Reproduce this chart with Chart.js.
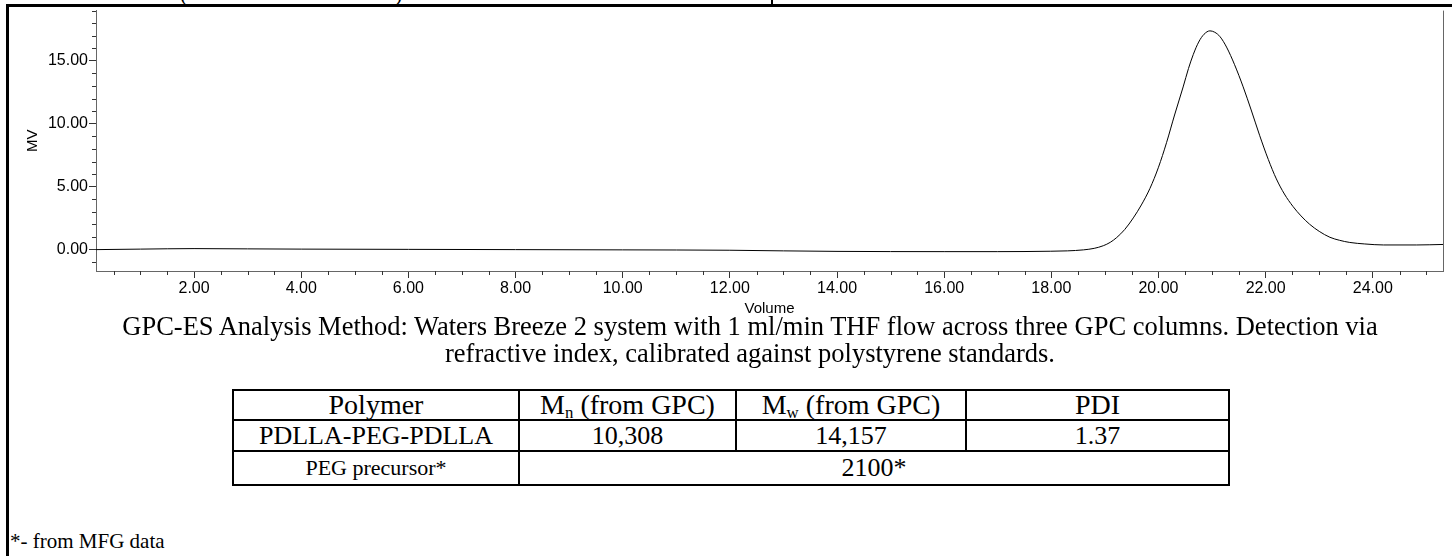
<!DOCTYPE html>
<html>
<head>
<meta charset="utf-8">
<title>GPC trace</title>
<script src="https://cdn.jsdelivr.net/npm/chart.js@4.4.0/dist/chart.umd.min.js"></script>
<style>
  body { margin: 0; width: 1452px; height: 556px; position: relative; overflow: hidden; background: #fff;
         font-family: "Liberation Serif", "Times New Roman", serif; color: #000; }
  .abs { position: absolute; }
  #chartBox { left: 0; top: 0; width: 1452px; height: 320px; }
  .caption { left: 0; width: 1500px; text-align: center; font-size: 26.5px; white-space: nowrap; line-height: 27px; }
  #gpcTable { position: absolute; left: 232px; top: 389px; border-collapse: collapse; table-layout: fixed; }
  #gpcTable td { border: 2px solid #000; text-align: center; padding: 0; white-space: nowrap; overflow: visible; }
  #gpcTable tr.head td { height: 28px; line-height: 28px; font-size: 28px; }
  #gpcTable tr.row1 td { height: 29px; line-height: 29px; font-size: 26px; }
  #gpcTable tr.row2 td { height: 32px; line-height: 32px; font-size: 26px; }
  #gpcTable tr.row2 td.name { font-size: 22px; }
  #gpcTable sub { font-size: 60%; line-height: 0; vertical-align: -0.25em; }
</style>
</head>
<body>
<!-- bits of the surrounding page frame -->
<div class="abs" style="left:180px; top:-19px; font-size:22px;">(</div>
<div class="abs" style="left:395px; top:-19px; font-size:22px;">)</div>
<div class="abs" style="left:771px; top:0; width:2px; height:6px; background:#000;"></div>

<div id="chartBox" class="abs"><canvas id="gpcChart"></canvas></div>

<div class="abs" style="left:6px; top:4px; width:1446px; height:3px; background:#000;"></div>
<div class="abs" style="left:6px; top:4px; width:3px; height:552px; background:#000;"></div>

<div class="abs caption" id="cap1" style="top:313px;"></div>
<div class="abs caption" id="cap2" style="top:340px;"></div>

<table id="gpcTable"></table>
<div class="abs" id="footnote" style="left:10px; top:529px; font-size:21px;"></div>

<script>
// --- trace (Volume in ml, signal in MV) ---
const volume = [0.17, 1.0, 2.0, 3.0, 4.0, 6.0, 8.0, 10.0, 12.0, 13.0, 14.0, 16.0, 17.0, 17.98,
                18.30, 18.60, 18.80, 18.97, 19.10, 19.22, 19.37, 19.53, 19.68, 19.84, 20.00,
                20.15, 20.30, 20.46, 20.56, 20.65, 20.75, 20.85, 20.96, 21.05, 21.15, 21.27,
                21.42, 21.58, 21.73, 21.89, 22.05, 22.20, 22.35, 22.51, 22.66, 22.82, 23.00,
                23.20, 23.38, 23.57, 23.85, 24.20, 24.82, 25.31];
const mv = [0.00, 0.04, 0.08, 0.06, 0.04, 0.02, 0.00, -0.02, -0.05, -0.10, -0.14, -0.16, -0.16, -0.13,
            -0.10, -0.02, 0.10, 0.31, 0.58, 0.96, 1.60, 2.52, 3.55, 4.86, 6.55,
            8.50, 10.70, 12.93, 14.40, 15.52, 16.50, 17.12, 17.39, 17.28, 16.92, 16.10,
            14.70, 12.94, 11.10, 9.05, 7.16, 5.62, 4.42, 3.43, 2.68, 2.02, 1.45,
            0.98, 0.74, 0.57, 0.45, 0.37, 0.37, 0.41];

// axis ticks
const xMajorTicks = [2, 4, 6, 8, 10, 12, 14, 16, 18, 20, 22, 24];
const yMajorTicks = [0, 5, 10, 15];
const xRange = [0.17, 25.31];
const yRange = [-1.7, 19];

// text around the chart
const captionLines = [
    'GPC-ES Analysis Method: Waters Breeze 2 system with 1 ml/min THF flow across three GPC columns. Detection via',
    'refractive index, calibrated against polystyrene standards.'
];
const tableHeader = ['Polymer', 'M<sub>n</sub> (from GPC)', 'M<sub>w</sub> (from GPC)', 'PDI'];
const polymerRow = ['PDLLA-PEG-PDLLA', '10,308', '14,157', '1.37'];
const precursorRow = ['PEG precursor*', '2100*'];
const footnote = '*- from MFG data';

// --- page text ---
document.getElementById('cap1').textContent = captionLines[0];
document.getElementById('cap2').textContent = captionLines[1];
document.getElementById('footnote').textContent = footnote;

function buildTable() {
    const table = document.getElementById('gpcTable');
    const widths = [286, 217, 230, 263];
    const cg = document.createElement('colgroup');
    widths.forEach(w => {
        const c = document.createElement('col');
        c.style.width = w + 'px';
        cg.appendChild(c);
    });
    table.appendChild(cg);

    const head = document.createElement('tr');
    head.className = 'head';
    tableHeader.forEach(h => {
        const td = document.createElement('td');
        td.innerHTML = h;
        head.appendChild(td);
    });
    table.appendChild(head);

    const r1 = document.createElement('tr');
    r1.className = 'row1';
    polymerRow.forEach((v, i) => {
        const td = document.createElement('td');
        if (i === 0) td.className = 'name';
        td.textContent = v;
        r1.appendChild(td);
    });
    table.appendChild(r1);

    const r2 = document.createElement('tr');
    r2.className = 'row2';
    const n = document.createElement('td');
    n.className = 'name';
    n.textContent = precursorRow[0];
    const m = document.createElement('td');
    m.colSpan = 3;
    m.textContent = precursorRow[1];
    r2.appendChild(n);
    r2.appendChild(m);
    table.appendChild(r2);
}
buildTable();

// --- chart ---
// short ticks between the labelled ones, plus the right edge of the plot box
const minorTicks = {
    id: 'minorTicks',
    afterDraw(chart) {
        const { ctx, chartArea, scales: { x, y } } = chart;
        ctx.save();
        ctx.strokeStyle = '#333';
        ctx.lineWidth = 1;
        ctx.beginPath();
        for (let v = 0.5; v <= x.max; v += 0.5) {
            if (v % 2 === 0) continue;
            const px = Math.round(x.getPixelForValue(v)) + 0.5;
            ctx.moveTo(px, chartArea.bottom);
            ctx.lineTo(px, chartArea.bottom + 4);
        }
        for (let v = Math.ceil(y.min); v <= y.max; v++) {
            if (v % 5 === 0) continue;
            const py = Math.round(y.getPixelForValue(v)) + 0.5;
            ctx.moveTo(chartArea.left - 4, py);
            ctx.lineTo(chartArea.left, py);
        }
        ctx.stroke();
        ctx.strokeStyle = '#666';
        ctx.beginPath();
        ctx.moveTo(chartArea.right + 0.5, chartArea.top);
        ctx.lineTo(chartArea.right + 0.5, chartArea.bottom);
        ctx.stroke();
        ctx.restore();
    }
};

const sans = '"Liberation Sans", Arial, sans-serif';

new Chart(document.getElementById('gpcChart').getContext('2d'), {
    type: 'line',
    data: {
        datasets: [{
            data: volume.map((v, i) => ({ x: v, y: mv[i] })),
            borderColor: '#000',
            borderWidth: 1,
            pointRadius: 0,
            fill: false,
            cubicInterpolationMode: 'monotone'
        }]
    },
    options: {
        responsive: true,
        maintainAspectRatio: false,
        animation: false,
        events: [],
        layout: { padding: { left: 0, right: 9, top: 5, bottom: 0 } },
        plugins: { legend: { display: false }, tooltip: { enabled: false } },
        scales: {
            x: {
                type: 'linear',
                min: xRange[0],
                max: xRange[1],
                afterBuildTicks: s => { s.ticks = xMajorTicks.map(v => ({ value: v })); },
                afterFit: s => { s.height = 49; },
                ticks: { color: '#000', font: { family: sans, size: 16 }, padding: 1, maxRotation: 0, callback: v => v.toFixed(2) },
                grid: { drawOnChartArea: false, tickLength: 7, tickColor: '#333' },
                border: { color: '#666', width: 1 },
                title: { display: true, text: 'Volume', color: '#000', font: { family: sans, size: 15 }, padding: { top: 2, bottom: 2 } }
            },
            y: {
                min: yRange[0],
                max: yRange[1],
                afterBuildTicks: s => { s.ticks = yMajorTicks.map(v => ({ value: v })); },
                afterFit: s => { s.width = 96; },
                ticks: { color: '#000', font: { family: sans, size: 16 }, padding: 1, callback: v => v.toFixed(2) },
                grid: { drawOnChartArea: false, tickLength: 7, tickColor: '#333' },
                border: { color: '#666', width: 1 },
                title: { display: true, text: 'MV', color: '#000', font: { family: sans, size: 15 }, padding: { top: 24, bottom: 24 } }
            }
        }
    },
    plugins: [minorTicks]
});
</script>
</body>
</html>
